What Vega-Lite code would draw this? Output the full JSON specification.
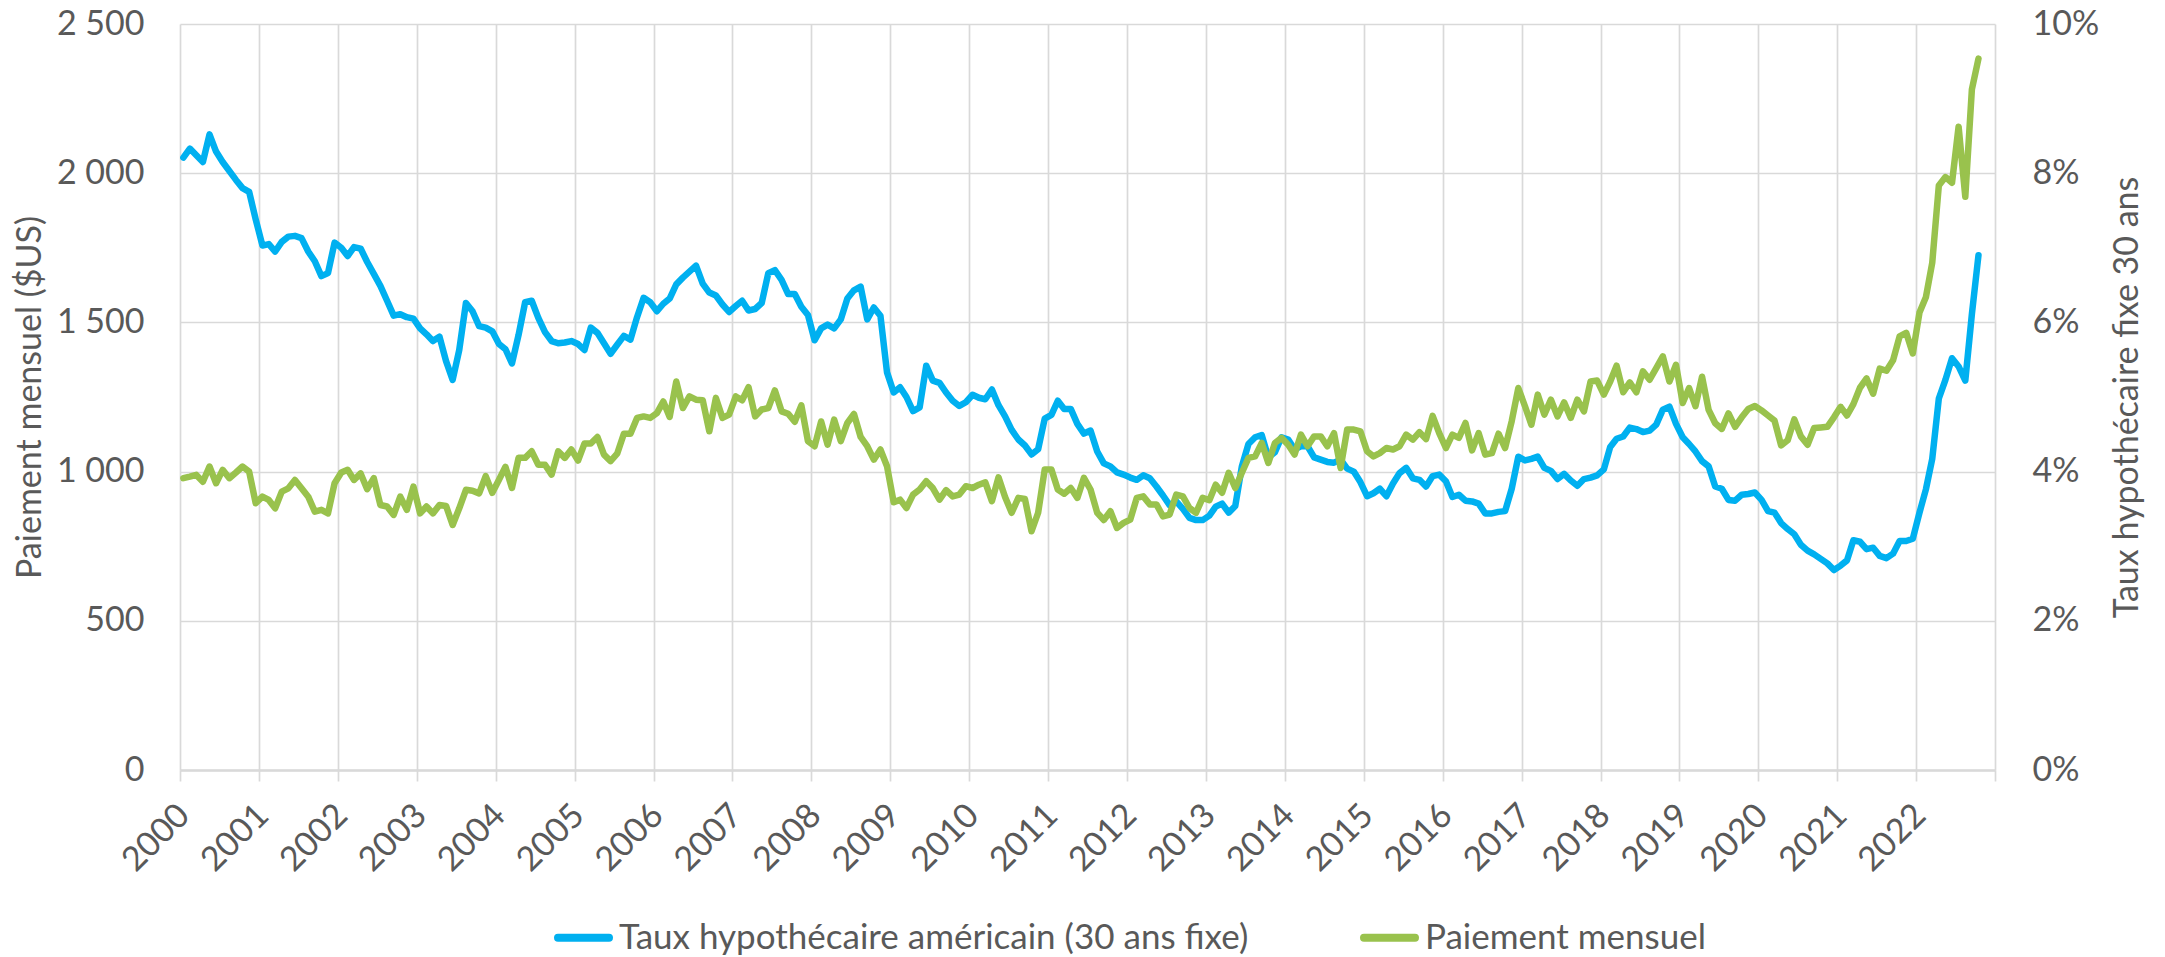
{
  "$schema": "https://vega.github.io/schema/vega-lite/v6.json",
  "width": 1815,
  "height": 746,
  "autosize": {"type": "none"},
  "padding": {"left": 180, "top": 24, "right": 170, "bottom": 187},
  "background": "white",
  "config": {
    "view": {"stroke": null},
    "font": "Lato",
    "axis": {"labelFont": "Lato", "titleFont": "Lato", "labelColor": "#595959", "titleColor": "#595959", "titleFontWeight": "normal"}
  },
  "datasets": {
    "serie": [
      {"d":"2000-01","taux":8.21,"paiement":978},{"d":"2000-02","taux":8.33,"paiement":983},{"d":"2000-03","taux":8.24,"paiement":989},{"d":"2000-04","taux":8.15,"paiement":966},{"d":"2000-05","taux":8.52,"paiement":1017},{"d":"2000-06","taux":8.29,"paiement":961},{"d":"2000-07","taux":8.15,"paiement":1006},{"d":"2000-08","taux":8.03,"paiement":978},{"d":"2000-09","taux":7.91,"paiement":997},{"d":"2000-10","taux":7.80,"paiement":1017},{"d":"2000-11","taux":7.75,"paiement":1000},{"d":"2000-12","taux":7.38,"paiement":894},
      {"d":"2001-01","taux":7.03,"paiement":916},{"d":"2001-02","taux":7.05,"paiement":905},{"d":"2001-03","taux":6.95,"paiement":877},{"d":"2001-04","taux":7.08,"paiement":933},{"d":"2001-05","taux":7.15,"paiement":944},{"d":"2001-06","taux":7.16,"paiement":972},{"d":"2001-07","taux":7.13,"paiement":944},{"d":"2001-08","taux":6.95,"paiement":916},{"d":"2001-09","taux":6.82,"paiement":866},{"d":"2001-10","taux":6.62,"paiement":872},{"d":"2001-11","taux":6.66,"paiement":860},{"d":"2001-12","taux":7.07,"paiement":961},
      {"d":"2002-01","taux":7.00,"paiement":997},{"d":"2002-02","taux":6.89,"paiement":1006},{"d":"2002-03","taux":7.01,"paiement":972},{"d":"2002-04","taux":6.99,"paiement":994},{"d":"2002-05","taux":6.81,"paiement":941},{"d":"2002-06","taux":6.65,"paiement":978},{"d":"2002-07","taux":6.49,"paiement":888},{"d":"2002-08","taux":6.29,"paiement":883},{"d":"2002-09","taux":6.09,"paiement":855},{"d":"2002-10","taux":6.11,"paiement":916},{"d":"2002-11","taux":6.07,"paiement":872},{"d":"2002-12","taux":6.05,"paiement":950},
      {"d":"2003-01","taux":5.92,"paiement":860},{"d":"2003-02","taux":5.84,"paiement":883},{"d":"2003-03","taux":5.75,"paiement":860},{"d":"2003-04","taux":5.81,"paiement":888},{"d":"2003-05","taux":5.48,"paiement":885},{"d":"2003-06","taux":5.23,"paiement":821},{"d":"2003-07","taux":5.63,"paiement":877},{"d":"2003-08","taux":6.26,"paiement":939},{"d":"2003-09","taux":6.15,"paiement":936},{"d":"2003-10","taux":5.95,"paiement":927},{"d":"2003-11","taux":5.93,"paiement":985},{"d":"2003-12","taux":5.88,"paiement":929},
      {"d":"2004-01","taux":5.71,"paiement":973},{"d":"2004-02","taux":5.64,"paiement":1016},{"d":"2004-03","taux":5.45,"paiement":945},{"d":"2004-04","taux":5.83,"paiement":1046},{"d":"2004-05","taux":6.27,"paiement":1046},{"d":"2004-06","taux":6.29,"paiement":1068},{"d":"2004-07","taux":6.06,"paiement":1023},{"d":"2004-08","taux":5.87,"paiement":1023},{"d":"2004-09","taux":5.75,"paiement":990},{"d":"2004-10","taux":5.72,"paiement":1068},{"d":"2004-11","taux":5.73,"paiement":1046},{"d":"2004-12","taux":5.75,"paiement":1074},
      {"d":"2005-01","taux":5.71,"paiement":1037},{"d":"2005-02","taux":5.63,"paiement":1094},{"d":"2005-03","taux":5.93,"paiement":1094},{"d":"2005-04","taux":5.86,"paiement":1116},{"d":"2005-05","taux":5.72,"paiement":1057},{"d":"2005-06","taux":5.58,"paiement":1035},{"d":"2005-07","taux":5.70,"paiement":1060},{"d":"2005-08","taux":5.82,"paiement":1127},{"d":"2005-09","taux":5.77,"paiement":1127},{"d":"2005-10","taux":6.07,"paiement":1180},{"d":"2005-11","taux":6.33,"paiement":1185},{"d":"2005-12","taux":6.27,"paiement":1180},
      {"d":"2006-01","taux":6.15,"paiement":1196},{"d":"2006-02","taux":6.25,"paiement":1235},{"d":"2006-03","taux":6.32,"paiement":1183},{"d":"2006-04","taux":6.51,"paiement":1302},{"d":"2006-05","taux":6.60,"paiement":1213},{"d":"2006-06","taux":6.68,"paiement":1252},{"d":"2006-07","taux":6.76,"paiement":1241},{"d":"2006-08","taux":6.52,"paiement":1239},{"d":"2006-09","taux":6.40,"paiement":1135},{"d":"2006-10","taux":6.36,"paiement":1247},{"d":"2006-11","taux":6.24,"paiement":1180},{"d":"2006-12","taux":6.14,"paiement":1191},
      {"d":"2007-01","taux":6.22,"paiement":1252},{"d":"2007-02","taux":6.29,"paiement":1239},{"d":"2007-03","taux":6.16,"paiement":1283},{"d":"2007-04","taux":6.18,"paiement":1185},{"d":"2007-05","taux":6.26,"paiement":1208},{"d":"2007-06","taux":6.66,"paiement":1213},{"d":"2007-07","taux":6.70,"paiement":1272},{"d":"2007-08","taux":6.57,"paiement":1202},{"d":"2007-09","taux":6.38,"paiement":1194},{"d":"2007-10","taux":6.38,"paiement":1167},{"d":"2007-11","taux":6.21,"paiement":1222},{"d":"2007-12","taux":6.10,"paiement":1102},
      {"d":"2008-01","taux":5.76,"paiement":1085},{"d":"2008-02","taux":5.92,"paiement":1168},{"d":"2008-03","taux":5.97,"paiement":1090},{"d":"2008-04","taux":5.92,"paiement":1174},{"d":"2008-05","taux":6.04,"paiement":1102},{"d":"2008-06","taux":6.32,"paiement":1163},{"d":"2008-07","taux":6.43,"paiement":1193},{"d":"2008-08","taux":6.48,"paiement":1116},{"d":"2008-09","taux":6.04,"paiement":1085},{"d":"2008-10","taux":6.20,"paiement":1040},{"d":"2008-11","taux":6.09,"paiement":1074},{"d":"2008-12","taux":5.33,"paiement":1018},
      {"d":"2009-01","taux":5.06,"paiement":897},{"d":"2009-02","taux":5.13,"paiement":906},{"d":"2009-03","taux":5.00,"paiement":878},{"d":"2009-04","taux":4.81,"paiement":923},{"d":"2009-05","taux":4.86,"paiement":940},{"d":"2009-06","taux":5.42,"paiement":968},{"d":"2009-07","taux":5.22,"paiement":945},{"d":"2009-08","taux":5.19,"paiement":906},{"d":"2009-09","taux":5.06,"paiement":938},{"d":"2009-10","taux":4.95,"paiement":917},{"d":"2009-11","taux":4.88,"paiement":923},{"d":"2009-12","taux":4.93,"paiement":951},
      {"d":"2010-01","taux":5.03,"paiement":945},{"d":"2010-02","taux":4.99,"paiement":956},{"d":"2010-03","taux":4.97,"paiement":964},{"d":"2010-04","taux":5.10,"paiement":901},{"d":"2010-05","taux":4.89,"paiement":981},{"d":"2010-06","taux":4.74,"paiement":915},{"d":"2010-07","taux":4.56,"paiement":862},{"d":"2010-08","taux":4.43,"paiement":912},{"d":"2010-09","taux":4.35,"paiement":908},{"d":"2010-10","taux":4.23,"paiement":800},{"d":"2010-11","taux":4.30,"paiement":862},{"d":"2010-12","taux":4.71,"paiement":1007},
      {"d":"2011-01","taux":4.76,"paiement":1007},{"d":"2011-02","taux":4.95,"paiement":940},{"d":"2011-03","taux":4.84,"paiement":926},{"d":"2011-04","taux":4.84,"paiement":945},{"d":"2011-05","taux":4.64,"paiement":912},{"d":"2011-06","taux":4.51,"paiement":979},{"d":"2011-07","taux":4.55,"paiement":940},{"d":"2011-08","taux":4.27,"paiement":862},{"d":"2011-09","taux":4.11,"paiement":838},{"d":"2011-10","taux":4.07,"paiement":867},{"d":"2011-11","taux":3.99,"paiement":811},{"d":"2011-12","taux":3.96,"paiement":828},
      {"d":"2012-01","taux":3.92,"paiement":839},{"d":"2012-02","taux":3.89,"paiement":912},{"d":"2012-03","taux":3.95,"paiement":917},{"d":"2012-04","taux":3.91,"paiement":890},{"d":"2012-05","taux":3.80,"paiement":890},{"d":"2012-06","taux":3.68,"paiement":850},{"d":"2012-07","taux":3.55,"paiement":856},{"d":"2012-08","taux":3.60,"paiement":923},{"d":"2012-09","taux":3.50,"paiement":917},{"d":"2012-10","taux":3.38,"paiement":878},{"d":"2012-11","taux":3.35,"paiement":862},{"d":"2012-12","taux":3.35,"paiement":912},
      {"d":"2013-01","taux":3.41,"paiement":904},{"d":"2013-02","taux":3.53,"paiement":956},{"d":"2013-03","taux":3.57,"paiement":929},{"d":"2013-04","taux":3.45,"paiement":996},{"d":"2013-05","taux":3.54,"paiement":945},{"d":"2013-06","taux":4.07,"paiement":996},{"d":"2013-07","taux":4.37,"paiement":1046},{"d":"2013-08","taux":4.46,"paiement":1051},{"d":"2013-09","taux":4.49,"paiement":1096},{"d":"2013-10","taux":4.19,"paiement":1029},{"d":"2013-11","taux":4.26,"paiement":1096},{"d":"2013-12","taux":4.46,"paiement":1113},
      {"d":"2014-01","taux":4.43,"paiement":1090},{"d":"2014-02","taux":4.30,"paiement":1057},{"d":"2014-03","taux":4.34,"paiement":1124},{"d":"2014-04","taux":4.34,"paiement":1085},{"d":"2014-05","taux":4.19,"paiement":1118},{"d":"2014-06","taux":4.16,"paiement":1118},{"d":"2014-07","taux":4.13,"paiement":1085},{"d":"2014-08","taux":4.12,"paiement":1129},{"d":"2014-09","taux":4.16,"paiement":1012},{"d":"2014-10","taux":4.04,"paiement":1141},{"d":"2014-11","taux":4.00,"paiement":1141},{"d":"2014-12","taux":3.86,"paiement":1135},
      {"d":"2015-01","taux":3.67,"paiement":1068},{"d":"2015-02","taux":3.71,"paiement":1051},{"d":"2015-03","taux":3.77,"paiement":1062},{"d":"2015-04","taux":3.67,"paiement":1079},{"d":"2015-05","taux":3.84,"paiement":1074},{"d":"2015-06","taux":3.98,"paiement":1085},{"d":"2015-07","taux":4.05,"paiement":1124},{"d":"2015-08","taux":3.91,"paiement":1107},{"d":"2015-09","taux":3.89,"paiement":1132},{"d":"2015-10","taux":3.80,"paiement":1109},{"d":"2015-11","taux":3.94,"paiement":1187},{"d":"2015-12","taux":3.96,"paiement":1129},
      {"d":"2016-01","taux":3.87,"paiement":1079},{"d":"2016-02","taux":3.66,"paiement":1124},{"d":"2016-03","taux":3.69,"paiement":1113},{"d":"2016-04","taux":3.61,"paiement":1163},{"d":"2016-05","taux":3.60,"paiement":1071},{"d":"2016-06","taux":3.57,"paiement":1129},{"d":"2016-07","taux":3.44,"paiement":1057},{"d":"2016-08","taux":3.44,"paiement":1062},{"d":"2016-09","taux":3.46,"paiement":1127},{"d":"2016-10","taux":3.47,"paiement":1079},{"d":"2016-11","taux":3.77,"paiement":1169},{"d":"2016-12","taux":4.20,"paiement":1280},
      {"d":"2017-01","taux":4.15,"paiement":1219},{"d":"2017-02","taux":4.17,"paiement":1157},{"d":"2017-03","taux":4.20,"paiement":1258},{"d":"2017-04","taux":4.05,"paiement":1191},{"d":"2017-05","taux":4.01,"paiement":1241},{"d":"2017-06","taux":3.90,"paiement":1185},{"d":"2017-07","taux":3.97,"paiement":1232},{"d":"2017-08","taux":3.88,"paiement":1180},{"d":"2017-09","taux":3.81,"paiement":1241},{"d":"2017-10","taux":3.90,"paiement":1202},{"d":"2017-11","taux":3.92,"paiement":1302},{"d":"2017-12","taux":3.95,"paiement":1305},
      {"d":"2018-01","taux":4.03,"paiement":1258},{"d":"2018-02","taux":4.33,"paiement":1302},{"d":"2018-03","taux":4.44,"paiement":1355},{"d":"2018-04","taux":4.47,"paiement":1266},{"d":"2018-05","taux":4.59,"paiement":1299},{"d":"2018-06","taux":4.57,"paiement":1266},{"d":"2018-07","taux":4.53,"paiement":1336},{"d":"2018-08","taux":4.55,"paiement":1308},{"d":"2018-09","taux":4.63,"paiement":1347},{"d":"2018-10","taux":4.83,"paiement":1386},{"d":"2018-11","taux":4.87,"paiement":1302},{"d":"2018-12","taux":4.64,"paiement":1358},
      {"d":"2019-01","taux":4.46,"paiement":1230},{"d":"2019-02","taux":4.37,"paiement":1280},{"d":"2019-03","taux":4.27,"paiement":1219},{"d":"2019-04","taux":4.14,"paiement":1318},{"d":"2019-05","taux":4.07,"paiement":1207},{"d":"2019-06","taux":3.80,"paiement":1162},{"d":"2019-07","taux":3.77,"paiement":1143},{"d":"2019-08","taux":3.62,"paiement":1195},{"d":"2019-09","taux":3.61,"paiement":1150},{"d":"2019-10","taux":3.69,"paiement":1182},{"d":"2019-11","taux":3.70,"paiement":1210},{"d":"2019-12","taux":3.72,"paiement":1220},
      {"d":"2020-01","taux":3.62,"paiement":1205},{"d":"2020-02","taux":3.47,"paiement":1188},{"d":"2020-03","taux":3.45,"paiement":1171},{"d":"2020-04","taux":3.31,"paiement":1088},{"d":"2020-05","taux":3.23,"paiement":1105},{"d":"2020-06","taux":3.16,"paiement":1175},{"d":"2020-07","taux":3.02,"paiement":1118},{"d":"2020-08","taux":2.94,"paiement":1090},{"d":"2020-09","taux":2.89,"paiement":1146},{"d":"2020-10","taux":2.83,"paiement":1148},{"d":"2020-11","taux":2.77,"paiement":1150},{"d":"2020-12","taux":2.68,"paiement":1182},
      {"d":"2021-01","taux":2.74,"paiement":1217},{"d":"2021-02","taux":2.81,"paiement":1188},{"d":"2021-03","taux":3.08,"paiement":1226},{"d":"2021-04","taux":3.06,"paiement":1281},{"d":"2021-05","taux":2.96,"paiement":1312},{"d":"2021-06","taux":2.98,"paiement":1261},{"d":"2021-07","taux":2.87,"paiement":1345},{"d":"2021-08","taux":2.84,"paiement":1338},{"d":"2021-09","taux":2.90,"paiement":1373},{"d":"2021-10","taux":3.07,"paiement":1453},{"d":"2021-11","taux":3.07,"paiement":1465},{"d":"2021-12","taux":3.10,"paiement":1396},
      {"d":"2022-01","taux":3.45,"paiement":1533},{"d":"2022-02","taux":3.76,"paiement":1584},{"d":"2022-03","taux":4.17,"paiement":1700},{"d":"2022-04","taux":4.98,"paiement":1959},{"d":"2022-05","taux":5.23,"paiement":1987},{"d":"2022-06","taux":5.52,"paiement":1968},{"d":"2022-07","taux":5.41,"paiement":2156},{"d":"2022-08","taux":5.22,"paiement":1921},{"d":"2022-09","taux":6.11,"paiement":2281},{"d":"2022-10","taux":6.90,"paiement":2384}
    ]
  },
  "data": {"name": "serie"},
  "encoding": {
    "x": {
      "field": "d", "timeUnit": "utcyearmonth", "type": "temporal", "bandPosition": 0.5, "title": null,
      "scale": {"domain": [{"year": 2000, "month": 1, "date": 1, "utc": true}, {"year": 2023, "month": 1, "date": 1, "utc": true}], "nice": false},
      "axis": {
        "format": "%Y", "tickCount": {"interval": "year", "step": 1},
        "labelExpr": "datum.label == '2023' ? '' : datum.label",
        "labelAngle": -45, "labelAlign": "right", "labelBaseline": "middle",
        "labelFontSize": 34, "labelPadding": 29, "labelOffset": 4,
        "labelFlush": false, "labelOverlap": false, "labelBound": false,
        "grid": true, "gridColor": "#D9D9D9", "gridWidth": 1.7,
        "ticks": true, "tickSize": 11, "tickColor": "#D9D9D9", "tickWidth": 1.7,
        "domain": true, "domainColor": "#D9D9D9", "domainWidth": 2.3
      }
    }
  },
  "layer": [
    {
      "mark": {"type": "line", "strokeWidth": 6.5, "strokeJoin": "round", "strokeCap": "round"},
      "encoding": {
        "y": {
          "field": "taux", "type": "quantitative",
          "scale": {"domain": [0, 10], "nice": false},
          "axis": {
            "orient": "right", "values": [0, 2, 4, 6, 8, 10], "labelExpr": "datum.value + '%'",
            "labelFontSize": 34, "labelPadding": 37, "labelAlign": "left",
            "grid": false, "ticks": false, "domain": false,
            "title": "Taux hypothécaire fixe 30 ans", "titleFontSize": 34, "titleAngle": 270,
            "titleX": 132, "titleY": 373, "titleAlign": "center", "titleBaseline": "middle"
          }
        },
        "color": {
          "datum": "Taux hypothécaire américain (30 ans fixe)", "type": "nominal",
          "scale": {"domain": ["Taux hypothécaire américain (30 ans fixe)", "Paiement mensuel"], "range": ["#00B0F0", "#99C24D"]},
          "legend": {
            "orient": "none", "legendX": 374, "legendY": 884, "direction": "horizontal", "title": null,
            "symbolType": "stroke", "symbolStrokeWidth": 8, "symbolSize": 2601,
            "labelFont": "Lato", "labelFontSize": 35, "labelColor": "#595959", "labelOffset": 6,
            "columnPadding": 99, "padding": 0, "labelLimit": 1000,
            "encode": {"symbols": {"update": {"strokeCap": {"value": "round"}}}}
          }
        }
      }
    },
    {
      "mark": {"type": "line", "strokeWidth": 6.5, "strokeJoin": "round", "strokeCap": "round"},
      "encoding": {
        "y": {
          "field": "paiement", "type": "quantitative",
          "scale": {"domain": [0, 2500], "nice": false},
          "axis": {
            "orient": "left", "values": [0, 500, 1000, 1500, 2000, 2500],
            "labelExpr": "replace(format(datum.value, ','), ',', ' ')",
            "labelFontSize": 34, "labelPadding": 36,
            "grid": true, "gridColor": "#D9D9D9", "gridWidth": 1.7, "ticks": false, "domain": false,
            "title": "Paiement mensuel ($US)", "titleFontSize": 34, "titleAngle": 270,
            "titleX": -150, "titleY": 373, "titleAlign": "center", "titleBaseline": "middle"
          }
        },
        "color": {"datum": "Paiement mensuel", "type": "nominal"}
      }
    }
  ],
  "resolve": {"scale": {"y": "independent"}, "axis": {"y": "independent"}}
}
